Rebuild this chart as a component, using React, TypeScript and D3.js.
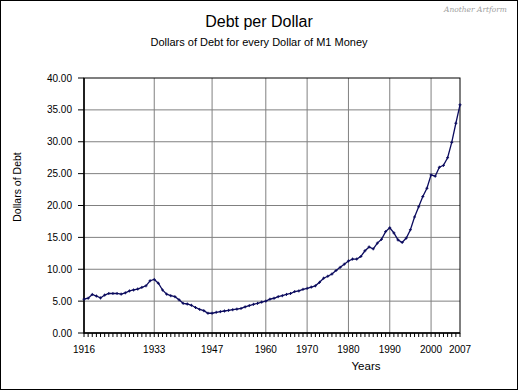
import * as d3 from "d3";

// categories: one per year, 1916..2007
const years = d3.range(1916, 2008);

// dollars of debt per dollar of M1
const debtPerDollar = [
  5.3, 5.45, 6.05, 5.8, 5.5, 5.95, 6.2, 6.2, 6.2, 6.1, // 1916-1925
  6.3, 6.6, 6.75, 6.9, 7.15, 7.4, 8.2, 8.4, 7.8, 6.75, // 1926-1935
  6.1, 5.85, 5.7, 5.2, 4.65, 4.55, 4.35, 4.0, 3.7, 3.5, // 1936-1945
  3.1, 3.1, 3.25, 3.35, 3.45, 3.55, 3.65, 3.75, 3.85, 4.1, // 1946-1955
  4.3, 4.5, 4.65, 4.85, 5.0, 5.3, 5.45, 5.7, 5.85, 6.05, // 1956-1965
  6.2, 6.5, 6.6, 6.85, 7.0, 7.2, 7.4, 7.95, 8.6, 8.9, // 1966-1975
  9.25, 9.8, 10.3, 10.8, 11.3, 11.6, 11.6, 12.0, 12.9, 13.5, // 1976-1985
  13.2, 14.1, 14.7, 15.9, 16.5, 15.7, 14.6, 14.2, 14.9, 16.2, // 1986-1995
  18.2, 19.8, 21.4, 22.7, 24.8, 24.6, 26.0, 26.3, 27.5, 29.9, // 1996-2005
  32.9, 35.8, // 2006-2007
];

const yTicks = [0, 5, 10, 15, 20, 25, 30, 35, 40];
const xLabelYears = [1916, 1933, 1947, 1960, 1970, 1980, 1990, 2000, 2007];
const xGridYears = [1933, 1947, 1960, 1970, 1980, 1990, 2000];

const W = 520;
const H = 391;
const plot = { left: 84, right: 460, top: 78, bottom: 333 };
const font = "'Liberation Sans', Arial, sans-serif";

export default function App() {
  const x = d3.scaleLinear().domain([1916, 2007]).range([plot.left, plot.right]);
  const y = d3.scaleLinear().domain([0, 40]).range([plot.bottom, plot.top]);

  const points = years.map((yr, i) => ({ yr, v: debtPerDollar[i] }));
  const line = d3
    .line<{ yr: number; v: number }>()
    .x((d) => x(d.yr))
    .y((d) => y(d.v));

  const lineColor = "#0b0b5e";

  return (
    <div style={{ position: "absolute", left: 0, top: 0 }}>
      <svg width={W} height={H} style={{ display: "block", background: "#fff" }}>
        <rect x={0.5} y={0.5} width={517} height={389} fill="#fff" stroke="#000" />

        {/* titles */}
        <text x={259} y={27} textAnchor="middle" fontFamily={font} fontSize={16}>
          Debt per Dollar
        </text>
        <text x={259} y={46} textAnchor="middle" fontFamily={font} fontSize={11}>
          Dollars of Debt for every Dollar of M1 Money
        </text>
        <text
          x={507}
          y={12}
          textAnchor="end"
          fontFamily="'DejaVu Serif', serif"
          fontStyle="italic"
          fontSize={7.5}
          fill="#a0a0a0"
        >
          Another Artform
        </text>

        {/* grid */}
        {yTicks.slice(1, -1).map((t) => (
          <line key={"gy" + t} x1={plot.left} x2={plot.right} y1={y(t)} y2={y(t)} stroke="#808080" />
        ))}
        {xGridYears.map((yr) => (
          <line key={"gx" + yr} x1={x(yr)} x2={x(yr)} y1={plot.top} y2={plot.bottom} stroke="#808080" />
        ))}
        <rect
          x={plot.left}
          y={plot.top}
          width={plot.right - plot.left}
          height={plot.bottom - plot.top}
          fill="none"
          stroke="#000"
        />
        <line x1={plot.left} x2={plot.left} y1={plot.top} y2={plot.bottom + 0.5} stroke="#000" strokeWidth={1.5} />
        <line x1={plot.left} x2={plot.right} y1={plot.bottom} y2={plot.bottom} stroke="#000" strokeWidth={1.5} />

        {/* y axis */}
        {yTicks.map((t) => (
          <g key={"yt" + t}>
            <line x1={plot.left - 6} x2={plot.left} y1={y(t)} y2={y(t)} stroke="#000" />
            <text x={72} y={y(t) + 3.5} textAnchor="end" fontFamily={font} fontSize={10}>
              {t.toFixed(2)}
            </text>
          </g>
        ))}
        <text
          transform={`translate(21, 187) rotate(-90)`}
          textAnchor="middle"
          fontFamily={font}
          fontSize={10.5}
        >
          Dollars of Debt
        </text>

        {/* x axis */}
        {years.map((yr) => (
          <line key={"xt" + yr} x1={x(yr)} x2={x(yr)} y1={plot.bottom} y2={plot.bottom + 4} stroke="#000" />
        ))}
        {xLabelYears.map((yr) => (
          <text key={"xl" + yr} x={x(yr)} y={353} textAnchor="middle" fontFamily={font} fontSize={10}>
            {yr}
          </text>
        ))}
        <text x={366} y={370} textAnchor="middle" fontFamily={font} fontSize={11.5}>
          Years
        </text>

        {/* series */}
        <path d={line(points) ?? ""} fill="none" stroke={lineColor} strokeWidth={1.3} />
        {points.map((p) => (
          <g key={"m" + p.yr} stroke={lineColor} strokeWidth={1}>
            <line x1={x(p.yr) - 1.5} x2={x(p.yr) + 1.5} y1={y(p.v)} y2={y(p.v)} />
            <line x1={x(p.yr)} x2={x(p.yr)} y1={y(p.v) - 1.5} y2={y(p.v) + 1.5} />
          </g>
        ))}
      </svg>
    </div>
  );
}
